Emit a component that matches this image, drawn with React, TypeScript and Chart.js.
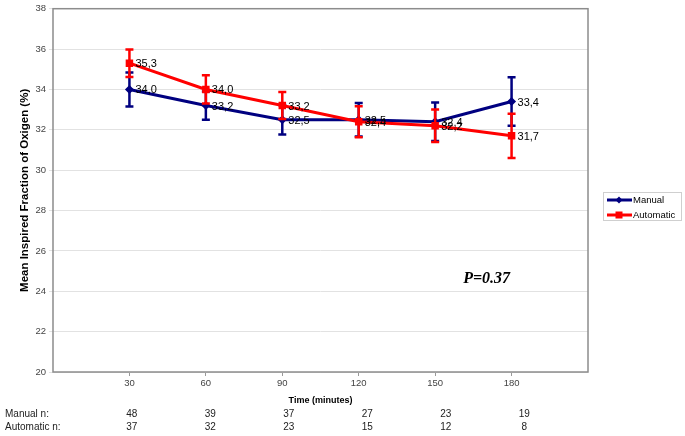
import React, { useEffect, useRef } from "react";
import { Chart, registerables } from "chart.js";

Chart.register(...registerables);

// ---- data ----
const TIMES = [30, 60, 90, 120, 150, 180];
const MANUAL_MEAN = [34.0, 33.2, 32.5, 32.5, 32.4, 33.4];
const MANUAL_ERR = [0.84, 0.7, 0.73, 0.83, 0.95, 1.2];
const AUTO_MEAN = [35.3, 34.0, 33.2, 32.4, 32.2, 31.7];
const AUTO_ERR = [0.68, 0.7, 0.67, 0.77, 0.8, 1.1];
const MANUAL_N = [48, 39, 37, 27, 23, 19];
const AUTO_N = [37, 32, 23, 15, 12, 8];
const SERIES_NAMES = ["Manual", "Automatic"];
const ROW_LABELS = ["Manual n:", "Automatic n:"];
const P_TEXT = "P=0.37";
const P_POS = { x: 161, y: 24.4 };

const FONT = "'Liberation Sans', Arial, sans-serif";
const BLUE = "#000080";
const RED = "#ff0000";

const fmt = (v: number) => v.toFixed(1).replace(".", ",");

const overlayPlugin = {
  id: "overlay",
  beforeDatasetsDraw(chart: any) {
    const { ctx, chartArea: a } = chart;
    ctx.save();
    ctx.strokeStyle = "#8c8c8c";
    ctx.lineWidth = 1.5;
    ctx.strokeRect(a.left, a.top, a.right - a.left, a.bottom - a.top);
    ctx.restore();
  },
  afterDatasetDraw(chart: any, args: any) {
    const { ctx } = chart;
    const ds = chart.data.datasets[args.index];
    const errs: number[] = ds.errors;
    const y = chart.scales.y;
    ctx.save();
    ctx.strokeStyle = ds.borderColor;
    ctx.lineWidth = 2.5;
    args.meta.data.forEach((pt: any, i: number) => {
      const v = ds.data[i].y;
      const yt = y.getPixelForValue(v + errs[i]);
      const yb = y.getPixelForValue(v - errs[i]);
      ctx.beginPath();
      ctx.moveTo(pt.x, yt);
      ctx.lineTo(pt.x, yb);
      ctx.moveTo(pt.x - 4, yt);
      ctx.lineTo(pt.x + 4, yt);
      ctx.moveTo(pt.x - 4, yb);
      ctx.lineTo(pt.x + 4, yb);
      ctx.stroke();
    });
    ctx.restore();
  },
  afterDatasetsDraw(chart: any) {
    const { ctx } = chart;
    const xs = chart.scales.x;
    const ys = chart.scales.y;
    ctx.save();
    // data labels
    ctx.font = `11px ${FONT}`;
    ctx.fillStyle = "#000";
    ctx.textAlign = "left";
    ctx.textBaseline = "middle";
    chart.data.datasets.forEach((ds: any, di: number) => {
      const meta = chart.getDatasetMeta(di);
      meta.data.forEach((pt: any, i: number) => {
        ctx.fillText(fmt(ds.data[i].y), pt.x + 6, pt.y + 1);
      });
    });
    // P value annotation
    ctx.font = `italic bold 16px 'Liberation Serif', 'Times New Roman', serif`;
    ctx.textBaseline = "alphabetic";
    ctx.fillText(P_TEXT, xs.getPixelForValue(P_POS.x), ys.getPixelForValue(P_POS.y));

    // legend
    const lx = 603, ly = 192, lw = 78, lh = 28;
    ctx.strokeStyle = "#cfcfcf";
    ctx.lineWidth = 1;
    ctx.strokeRect(lx + 0.5, ly + 0.5, lw, lh);
    ctx.font = `9.5px ${FONT}`;
    ctx.textBaseline = "middle";
    chart.data.datasets.forEach((ds: any, di: number) => {
      const cy = ly + 8 + di * 15;
      ctx.strokeStyle = ds.borderColor;
      ctx.fillStyle = ds.borderColor;
      ctx.lineWidth = 3;
      ctx.beginPath();
      ctx.moveTo(lx + 4, cy);
      ctx.lineTo(lx + 29, cy);
      ctx.stroke();
      const mx = lx + 16;
      ctx.beginPath();
      if (di === 0) {
        ctx.moveTo(mx, cy - 3.5);
        ctx.lineTo(mx + 3.5, cy);
        ctx.lineTo(mx, cy + 3.5);
        ctx.lineTo(mx - 3.5, cy);
        ctx.closePath();
      } else {
        ctx.rect(mx - 3.5, cy - 3.5, 7, 7);
      }
      ctx.fill();
      ctx.fillStyle = "#000";
      ctx.fillText(ds.label, lx + 30, cy + 0.5);
    });

    // n table below the axis
    ctx.font = `10px ${FONT}`;
    ctx.fillStyle = "#222";
    const rows = [MANUAL_N, AUTO_N];
    rows.forEach((row, ri) => {
      const cy = 414 + ri * 13;
      ctx.textAlign = "left";
      ctx.fillText(ROW_LABELS[ri], 5, cy);
      ctx.textAlign = "center";
      row.forEach((n, i) => {
        const px = xs.getPixelForValue(TIMES[i]) * 1.0275 - 1.3;
        ctx.fillText(String(n), px, cy);
      });
    });
    ctx.restore();
  },
};

export default function App() {
  const ref = useRef<HTMLCanvasElement | null>(null);

  useEffect(() => {
    if (!ref.current) return;
    const chart = new Chart(ref.current, {
      type: "line",
      data: {
        datasets: [
          {
            label: SERIES_NAMES[0],
            data: TIMES.map((t, i) => ({ x: t, y: MANUAL_MEAN[i] })),
            borderColor: BLUE,
            backgroundColor: BLUE,
            borderWidth: 3,
            pointStyle: "rectRot",
            pointRadius: 4.5,
            pointBorderWidth: 0,
            tension: 0,
            order: 1,
            errors: MANUAL_ERR,
          } as any,
          {
            label: SERIES_NAMES[1],
            data: TIMES.map((t, i) => ({ x: t, y: AUTO_MEAN[i] })),
            borderColor: RED,
            backgroundColor: RED,
            borderWidth: 3,
            pointStyle: "rect",
            pointRadius: 5.3,
            pointBorderWidth: 0,
            tension: 0,
            order: 0,
            errors: AUTO_ERR,
          } as any,
        ],
      },
      options: {
        animation: false,
        responsive: false,
        layout: { padding: { left: 14, right: 97, top: 7, bottom: 0 } },
        plugins: {
          legend: { display: false },
          tooltip: { enabled: false },
        },
        scales: {
          x: {
            type: "linear",
            min: 0,
            max: 210,
            afterBuildTicks: (s: any) => {
              s.ticks = TIMES.map((v) => ({ value: v }));
            },
            afterFit: (s: any) => {
              s.height = 64;
            },
            grid: { drawOnChartArea: false, tickLength: 4, color: "#999" },
            border: { display: false },
            ticks: {
              font: { family: FONT, size: 9.5 },
              color: "#444",
              padding: 2,
              maxRotation: 0,
            },
            title: {
              display: true,
              text: "Time (minutes)",
              font: { family: FONT, size: 9, weight: "bold" },
              color: "#000",
              padding: { top: 0, bottom: 29.6 },
            },
          },
          y: {
            min: 20,
            max: 38,
            afterBuildTicks: (s: any) => {
              const t = [];
              for (let v = 20; v <= 38; v += 2) t.push({ value: v });
              s.ticks = t;
            },
            afterFit: (s: any) => {
              s.width = 39;
            },
            grid: { color: "#e2e2e2", tickLength: 4, lineWidth: 1 },
            border: { display: false },
            ticks: {
              font: { family: FONT, size: 9.5 },
              color: "#444",
              padding: 3,
            },
            title: {
              display: true,
              text: "Mean Inspired Fraction of Oxigen (%)",
              font: { family: FONT, size: 11.5, weight: "bold" },
              color: "#000",
              padding: { top: 4, bottom: 0 },
            },
          },
        },
      } as any,
      plugins: [overlayPlugin],
    });
    return () => chart.destroy();
  }, []);

  return (
    <div style={{ position: "absolute", left: 0, top: 0, width: 685, height: 436, background: "#fff" }}>
      <canvas ref={ref} width={685} height={436} style={{ display: "block" }} />
    </div>
  );
}
